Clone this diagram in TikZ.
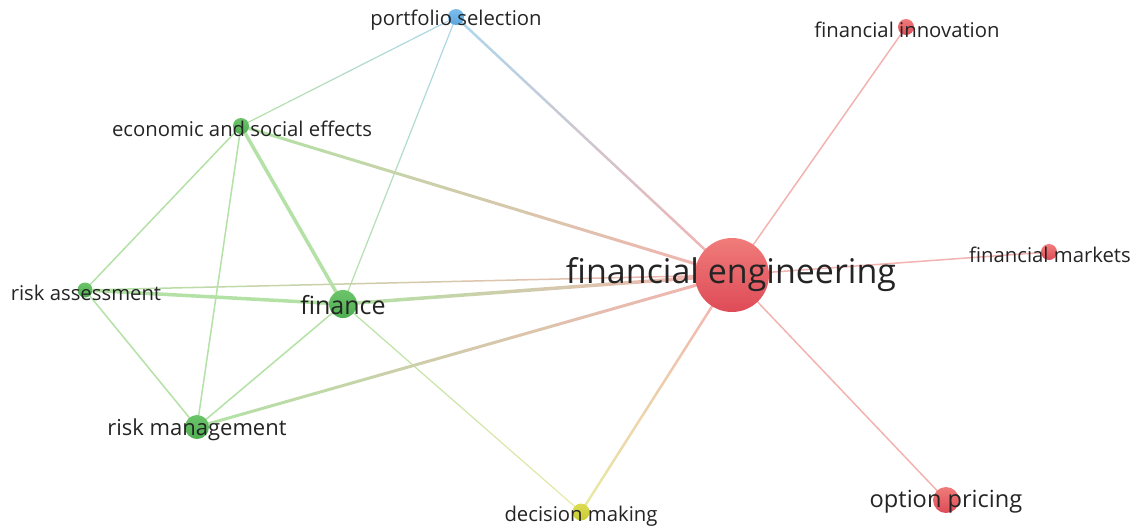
\documentclass[tikz,border=0pt]{standalone}
\usepackage{fontspec}
\setmainfont{Open Sans}
\usetikzlibrary{calc,backgrounds}

% cluster colours
\definecolor{redTop}{HTML}{F07C7A}
\definecolor{redBot}{HTML}{DE4B57}
\definecolor{greenTop}{HTML}{6CC46A}
\definecolor{greenBot}{HTML}{4FAE52}
\definecolor{blueTop}{HTML}{7DBDEB}
\definecolor{blueBot}{HTML}{5AA6DF}
\definecolor{yellowTop}{HTML}{DDDD55}
\definecolor{yellowBot}{HTML}{C8CA30}

% link colours
\definecolor{lnRed}{HTML}{F3B3B1}
\definecolor{lnGreen}{HTML}{B4E1A6}
\definecolor{lnBlue}{HTML}{AFD6EA}
\definecolor{lnYellow}{HTML}{E9E9A6}

\tikzset{
  dot/.style={circle, inner sep=0pt, draw=none},
  reddot/.style={dot, top color=redTop, bottom color=redBot},
  greendot/.style={dot, top color=greenTop, bottom color=greenBot},
  bluedot/.style={dot, top color=blueTop, bottom color=blueBot},
  yellowdot/.style={dot, top color=yellowTop, bottom color=yellowBot},
  term/.style={text=black!86, inner sep=0pt, font=\fontsize{20.3}{20.3}\selectfont},
}

% link from #1 to #2, fading from colour #3 to colour #4, width #5
\newcommand{\edgelink}[5]{%
  \foreach \s in {0,...,11}{%
    \pgfmathtruncatemacro{\mix}{100-\s*100/11}
    \draw[line width=#5, line cap=round, color={#3!\mix!#4}]
      ($(#1)!{\s/12}!(#2)$) -- ($(#1)!{(\s+1)/12}!(#2)$);
  }}

\begin{document}
\begin{tikzpicture}[x=1pt,y=-1pt]
\useasboundingbox (0,0) rectangle (1135,528);

% keyword dots
\node[reddot, minimum size=74pt] (fe) at (732,275) {};
\node[reddot, minimum size=16pt] (fi) at (906,27) {};
\node[reddot, minimum size=16pt] (fm) at (1049,252) {};
\node[reddot, minimum size=26pt] (op) at (946,500) {};
\node[bluedot, minimum size=16pt] (ps) at (456,17) {};
\node[greendot, minimum size=16pt] (eco) at (241,126) {};
\node[greendot, minimum size=15pt] (ra) at (85,290) {};
\node[greendot, minimum size=28pt] (fin) at (343,304) {};
\node[greendot, minimum size=24pt] (rm) at (197,427) {};
\node[yellowdot, minimum size=17pt] (dm) at (581,512) {};

% links
\begin{pgfonlayer}{background}
\edgelink{ps}{eco}{lnBlue}{lnGreen}{1.2pt}
\edgelink{ps}{fin}{lnBlue}{lnGreen}{1.2pt}
\edgelink{fin}{dm}{lnGreen}{lnYellow}{1.2pt}
\edgelink{eco}{ra}{lnGreen}{lnGreen}{1.5pt}
\edgelink{eco}{rm}{lnGreen}{lnGreen}{1.5pt}
\edgelink{ra}{rm}{lnGreen}{lnGreen}{1.5pt}
\edgelink{fin}{rm}{lnGreen}{lnGreen}{1.5pt}
\edgelink{fe}{ra}{lnRed}{lnGreen}{1.5pt}
\edgelink{fe}{fi}{lnRed}{lnRed}{1.5pt}
\edgelink{fe}{fm}{lnRed}{lnRed}{1.5pt}
\edgelink{fe}{op}{lnRed}{lnRed}{1.5pt}
\edgelink{fe}{ps}{lnRed}{lnBlue}{2.5pt}
\edgelink{fe}{dm}{lnRed}{lnYellow}{2.5pt}
\edgelink{fe}{rm}{lnRed}{lnGreen}{3pt}
\edgelink{fe}{eco}{lnRed}{lnGreen}{3pt}
\edgelink{eco}{fin}{lnGreen}{lnGreen}{3.5pt}
\edgelink{ra}{fin}{lnGreen}{lnGreen}{3.5pt}
\edgelink{fe}{fin}{lnRed}{lnGreen}{3.5pt}
\end{pgfonlayer}

% labels
\node[term, font=\fontsize{34}{34}\selectfont] (fe-l) at (731,275) {financial engineering};
\node[term] (fi-l) at (907,30) {financial innovation};
\node[term] (fm-l) at (1050,255) {financial markets};
\node[term, font=\fontsize{23.6}{23.6}\selectfont] (op-l) at (946,502) {option pricing};
\node[term] (ps-l) at (456,20) {portfolio selection};
\node[term] (eco-l) at (242,129) {economic and social effects};
\node[term] (ra-l) at (86,293) {risk assessment};
\node[term, font=\fontsize{25}{25}\selectfont] (fin-l) at (343,305) {finance};
\node[term, font=\fontsize{22}{22}\selectfont] (rm-l) at (197,430) {risk management};
\node[term] (dm-l) at (581,516) {decision making};

\end{tikzpicture}
\end{document}
